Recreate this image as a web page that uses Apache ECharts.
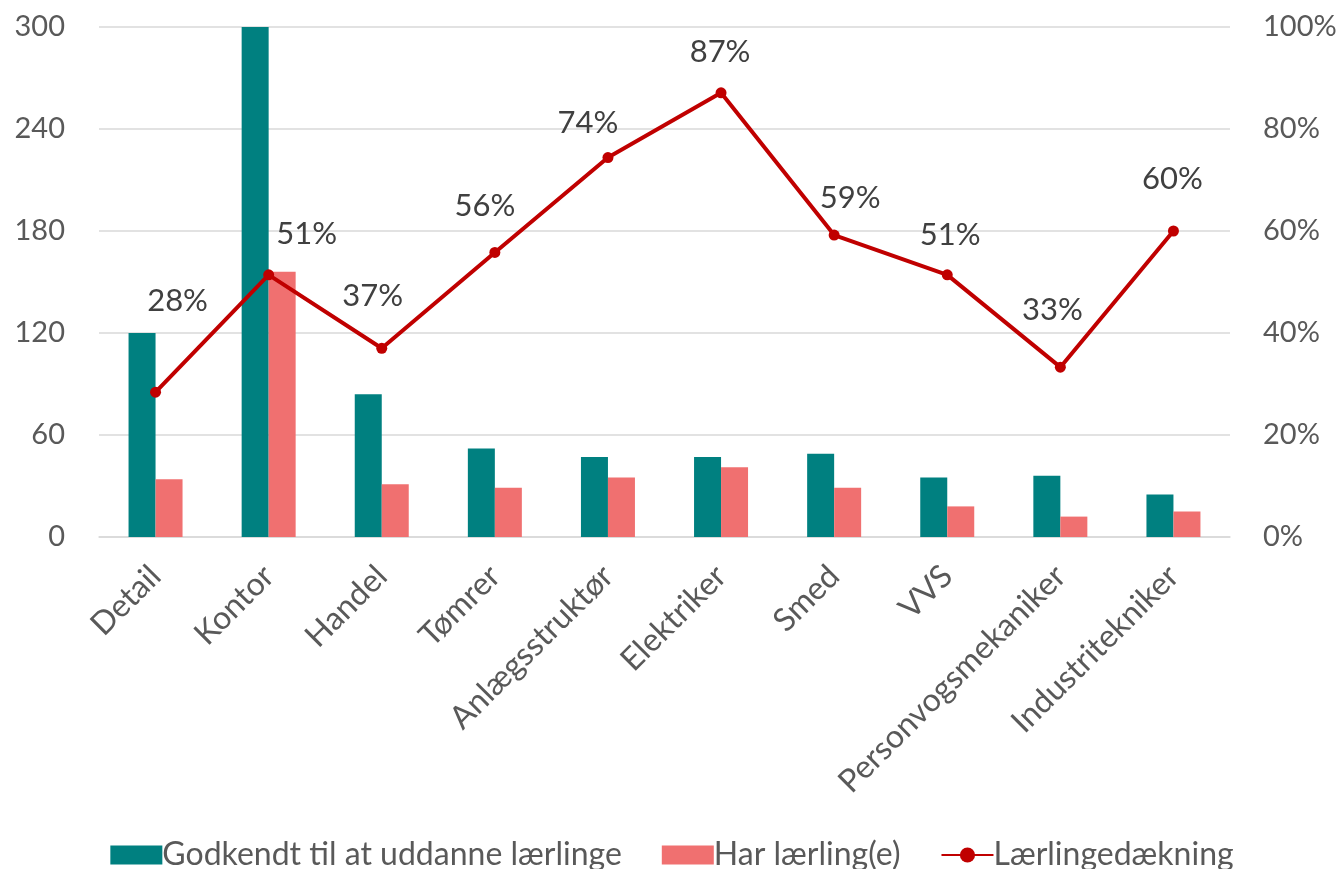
<!DOCTYPE html>
<html>
<head>
<meta charset="utf-8">
<title>Lærlingedækning</title>
<script src="https://cdn.jsdelivr.net/npm/echarts@6/dist/echarts.min.js"></script>
<style>
  html, body { margin: 0; padding: 0; background: #fff; }
  #chart { width: 1344px; height: 869px; }
</style>
</head>
<body>
<div id="chart"></div>
<script>
// uddannelser
const categories = ['Detail', 'Kontor', 'Handel', 'Tømrer', 'Anlægsstruktør', 'Elektriker', 'Smed', 'VVS', 'Personvogsmekaniker', 'Industritekniker'];
// antal virksomheder
const godkendt = [120, 300, 84, 52, 47, 47, 49, 35, 36, 25];
const harLaerling = [34, 156, 31, 29, 35, 41, 29, 18, 12, 15];
// dækning i procent
const daekning = [28.4, 51.4, 37.0, 55.8, 74.4, 87.1, 59.2, 51.4, 33.3, 60.0];
const leftTicks = [0, 60, 120, 180, 240, 300];
const rightTicks = [0, 20, 40, 60, 80, 100];

// labels er flyttet lidt rundt i originalen
const labelOffsets = [[22, -70], [38, -20], [-9, -31], [-10, -25], [-20, -14], [-1, -20], [16, -16], [3, -19], [-8, -36], [-1, -31]];

const txt = '#595959';
const font = 'Lato';

let myChart = echarts.init(document.getElementById('chart'));
myChart.setOption({
  textStyle: { fontFamily: font },
  animation: false,
  grid: { left: 99, right: 114, top: 27, bottom: 332 },
  legend: {
    top: 834,
    left: 'center',
    itemWidth: 52,
    itemHeight: 19,
    itemGap: 40,
    textStyle: { color: txt, fontSize: 32, fontFamily: font, padding: [0, 0, 0, -5] },
    data: [
      { name: 'Godkendt til at uddanne lærlinge', icon: 'rect' },
      { name: 'Har lærling(e)', icon: 'rect' },
      { name: 'Lærlingedækning' }
    ]
  },
  xAxis: {
    type: 'category',
    data: categories,
    axisLine: { show: true, lineStyle: { color: '#d9d9d9', width: 1.5 } },
    axisTick: { show: false },
    axisLabel: { color: txt, fontSize: 32, rotate: 45, interval: 0, margin: 34 }
  },
  yAxis: [
    {
      type: 'value',
      min: leftTicks[0],
      max: leftTicks[leftTicks.length - 1],
      interval: leftTicks[1] - leftTicks[0],
      axisLine: { show: false },
      axisTick: { show: false },
      axisLabel: { color: txt, fontSize: 29, margin: 34 },
      splitLine: { lineStyle: { color: '#d9d9d9', width: 1.5 } }
    },
    {
      type: 'value',
      min: rightTicks[0],
      max: rightTicks[rightTicks.length - 1],
      interval: rightTicks[1] - rightTicks[0],
      axisLine: { show: false },
      axisTick: { show: false },
      axisLabel: { color: txt, fontSize: 29, margin: 33, formatter: '{value}%' },
      splitLine: { show: false }
    }
  ],
  series: [
    {
      name: 'Godkendt til at uddanne lærlinge',
      type: 'bar',
      data: godkendt,
      barWidth: 27,
      barGap: '0%',
      itemStyle: { color: '#008080' }
    },
    {
      name: 'Har lærling(e)',
      type: 'bar',
      data: harLaerling,
      barWidth: 27,
      itemStyle: { color: '#f07070' }
    },
    {
      name: 'Lærlingedækning',
      type: 'line',
      yAxisIndex: 1,
      data: daekning.map((v, i) => ({
        value: v,
        label: { offset: labelOffsets[i] }
      })),
      symbol: 'circle',
      symbolSize: 11,
      lineStyle: { color: '#c00000', width: 4 },
      itemStyle: { color: '#c00000' },
      label: {
        show: true,
        position: 'top',
        distance: 0,
        color: '#404040',
        fontSize: 31,
        formatter: p => Math.round(p.value) + '%'
      }
    }
  ]
});
</script>
</body>
</html>
